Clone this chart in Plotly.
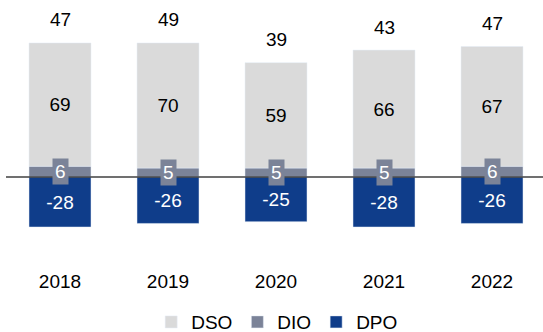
import plotly.graph_objects as go

years = ["2018", "2019", "2020", "2021", "2022"]
dso = [69, 70, 59, 66, 67]
dio = [6, 5, 5, 5, 6]
dpo = [-28, -26, -25, -28, -26]
totals = [s + i + p for s, i, p in zip(dso, dio, dpo)]

C_DSO = "#dadada"
C_DIO = "#7b8398"
C_DPO = "#0f3d8a"
FONT = "Liberation Sans, Arial, sans-serif"
FS = 19
BAR_W = 0.574

fig = go.Figure()
# DIO first so it sits directly on the zero line, DSO stacks above it
fig.add_trace(go.Bar(x=years, y=dio, name="DIO", marker_color=C_DIO, width=BAR_W,
                     legendrank=2, hoverinfo="skip"))
fig.add_trace(go.Bar(x=years, y=dso, name="DSO", marker_color=C_DSO, width=BAR_W,
                     text=[str(v) for v in dso], textposition="inside",
                     insidetextanchor="middle", textangle=0,
                     textfont=dict(color="#000000", size=FS, family=FONT),
                     legendrank=1, hoverinfo="skip"))
fig.add_trace(go.Bar(x=years, y=dpo, name="DPO", marker_color=C_DPO, width=BAR_W,
                     text=[str(v) for v in dpo], textposition="inside",
                     insidetextanchor="middle", textangle=0,
                     textfont=dict(color="#ffffff", size=FS, family=FONT),
                     legendrank=3, hoverinfo="skip"))

annotations = []
for k, (s, i, t) in enumerate(zip(dso, dio, totals)):
    # net total above the positive stack
    annotations.append(dict(x=k, y=s + i, xref="x", yref="y", text=str(t),
                            showarrow=False, yanchor="middle", yshift=23,
                            font=dict(size=FS, color="#000000", family=FONT)))
    # DIO value in a small tag over the thin segment
    annotations.append(dict(x=k, y=i / 2, xref="x", yref="y", text=str(i),
                            showarrow=False, yanchor="middle", bgcolor=C_DIO,
                            borderpad=2,
                            font=dict(size=FS, color="#ffffff", family=FONT)))

fig.update_layout(
    width=543, height=332,
    margin=dict(l=6, r=0, t=0, b=0, autoexpand=False),
    paper_bgcolor="white", plot_bgcolor="white",
    barmode="relative",
    font=dict(family=FONT, size=FS, color="#000000"),
    xaxis=dict(type="category", range=[-0.5, -0.5 + 537 / 108], showgrid=False,
               showline=False, ticks="", tickfont=dict(size=FS, color="#000000"),
               ticklabelstandoff=8),
    yaxis=dict(domain=[0.2169, 1], range=[-46.45, 99.05], visible=False,
               showgrid=False, zeroline=False),
    shapes=[dict(type="line", xref="paper", yref="y", x0=0, x1=1, y0=0, y1=0,
                 line=dict(color="#404040", width=1.5), layer="above")],
    annotations=annotations,
    legend=dict(orientation="h", x=0.505, xanchor="center", y=0.030, yanchor="middle",
                font=dict(size=FS, color="#000000"), itemwidth=30,
                traceorder="normal"),
    showlegend=True,
)

fig.write_html("out.html")
